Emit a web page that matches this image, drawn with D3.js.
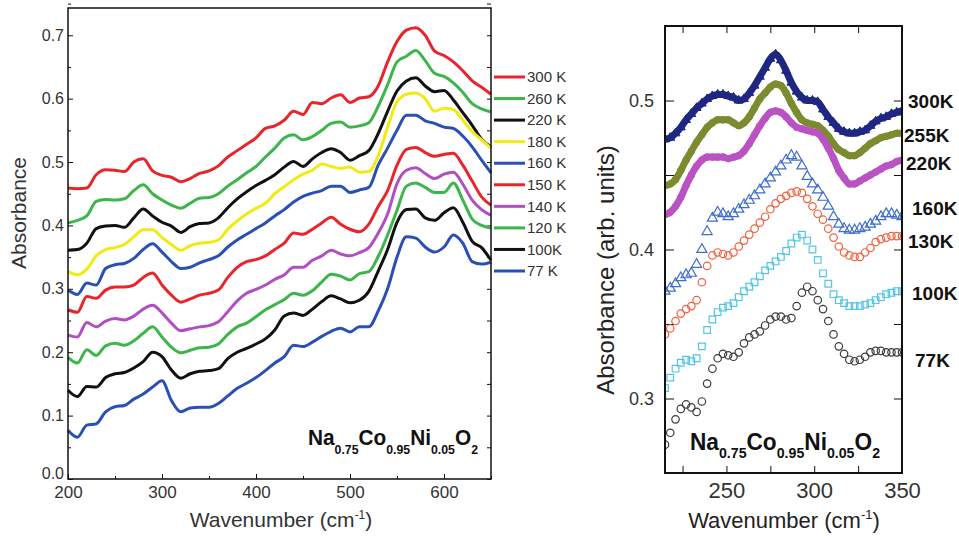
<!DOCTYPE html>
<html>
<head>
<meta charset="utf-8">
<script src="https://d3js.org/d3.v7.min.js"></script>
<style>
  body { margin: 0; background: #fff; }
  svg { display: block; }
</style>
</head>
<body>
<svg id="chart" width="959" height="538"></svg>
<script>
// ---------- left panel data (wavenumber 200..650, absorbance) ----------
const leftX = [200,210,220,230,240,250,260,270,280,290,300,310,320,330,340,350,360,370,380,390,
  400,410,420,430,440,450,460,470,480,490,500,510,520,530,540,550,560,570,580,590,600,610,620,630,640,650];
const leftLabels = ["300 K","260 K","220 K","180 K","160 K","150 K","140 K","120 K","100K","77 K"];
const leftColors = ["#e8252b","#3cb54a","#111111","#f2ea12","#2a50b6","#e8252b","#b04fc2","#3cb54a","#111111","#2a50b6"];
const k300 = [.459,.458,.459,.480,.488,.487,.485,.500,.505,.486,.479,.476,.469,.474,.482,.486,.494,.508,.518,.528,
  .538,.553,.557,.566,.580,.575,.594,.592,.601,.606,.594,.601,.603,.620,.658,.690,.708,.712,.700,.675,.668,.658,.644,.628,.618,.607];
const k260 = [.404,.408,.415,.438,.441,.440,.442,.455,.464,.450,.440,.432,.427,.435,.443,.444,.450,.462,.472,.483,
  .493,.508,.522,.538,.543,.535,.540,.550,.561,.563,.555,.557,.562,.588,.622,.658,.667,.676,.660,.640,.635,.625,.610,.592,.584,.579];
const k220 = [.361,.362,.372,.395,.399,.400,.397,.412,.426,.415,.405,.399,.389,.398,.403,.404,.412,.428,.442,.453,
  .463,.471,.480,.492,.501,.493,.505,.515,.521,.515,.503,.510,.518,.545,.580,.612,.628,.633,.620,.611,.613,.598,.578,.558,.536,.524];
const k180 = [.327,.322,.331,.352,.362,.365,.370,.382,.393,.393,.381,.370,.361,.368,.372,.373,.377,.394,.407,.418,
  .427,.435,.450,.461,.472,.481,.487,.497,.493,.490,.492,.484,.485,.510,.555,.595,.607,.609,.600,.580,.585,.583,.566,.548,.535,.522];
const k160 = [.298,.291,.309,.306,.332,.338,.340,.348,.362,.371,.358,.343,.332,.334,.341,.346,.352,.366,.377,.386,
  .395,.404,.415,.425,.437,.446,.451,.455,.462,.462,.452,.456,.460,.495,.522,.550,.574,.574,.565,.561,.555,.553,.541,.524,.503,.483];
const k150 = [.267,.263,.288,.285,.298,.303,.303,.306,.318,.325,.306,.290,.279,.284,.290,.293,.298,.318,.334,.343,
  .346,.352,.362,.372,.388,.386,.394,.404,.413,.402,.394,.390,.402,.430,.455,.495,.520,.523,.515,.509,.512,.514,.495,.470,.445,.432];
const k140 = [.227,.224,.247,.240,.249,.253,.251,.257,.268,.274,.262,.246,.234,.237,.240,.242,.248,.264,.281,.293,
  .299,.306,.315,.322,.334,.334,.345,.352,.361,.355,.352,.357,.365,.388,.418,.466,.487,.491,.482,.474,.481,.484,.465,.440,.425,.416];
const k120 = [.192,.183,.204,.195,.210,.214,.211,.218,.230,.240,.224,.208,.199,.203,.207,.208,.213,.228,.240,.246,
  .256,.267,.275,.283,.293,.290,.297,.311,.323,.320,.314,.324,.327,.351,.385,.424,.462,.467,.460,.452,.452,.467,.440,.410,.400,.396];
const k100 = [.140,.130,.146,.145,.160,.166,.168,.175,.185,.200,.193,.172,.159,.166,.170,.171,.174,.190,.200,.206,
  .213,.221,.235,.257,.262,.258,.268,.280,.289,.284,.278,.282,.296,.328,.362,.405,.425,.426,.412,.408,.420,.428,.405,.375,.365,.345];
const k77 = [.077,.066,.085,.087,.106,.114,.116,.126,.134,.145,.155,.124,.106,.112,.113,.113,.119,.131,.143,.151,
  .160,.171,.183,.193,.211,.209,.216,.225,.233,.238,.232,.240,.240,.265,.300,.350,.382,.380,.366,.358,.366,.385,.372,.343,.339,.342];
const leftSeries = [k300,k260,k220,k180,k160,k150,k140,k120,k100,k77];
const leftYTicks = [0,0.1,0.2,0.3,0.4,0.5,0.6,0.7];
const leftXTicks = [200,300,400,500,600];

// ---------- right panel data (wavenumber 215..350) ----------
const rightX = [215,218,221,224,227,230,233,236,239,242,245,248,251,254,257,260,263,266,269,272,275,278,281,284,287,
  290,293,296,299,302,305,308,311,314,317,320,323,326,329,332,335,338,341,344,347,350];
const rightLabels = ["300K","255K","220K","160K","130K","100K","77K"];
const rightColors = ["#1f2782","#7c8b2f","#bb52c4","#3f6ccf","#f3603f","#55c5e6","#3c3c3c"];
const r300 = [.474,.475,.478,.482,.487,.491,.495,.498,.501,.503,.504,.504,.503,.502,.500,.501,.505,.510,.516,.522,.528,.531,.527,.520,.512,
  .506,.502,.500,.500,.499,.494,.489,.485,.481,.479,.478,.478,.479,.480,.483,.486,.488,.489,.491,.492,.493];
const r255 = [.443,.444,.447,.453,.460,.466,.472,.477,.482,.485,.487,.487,.487,.485,.483,.485,.489,.495,.501,.505,.509,.511,.510,.505,.498,
  .492,.487,.485,.484,.483,.480,.476,.471,.467,.465,.463,.463,.465,.468,.471,.473,.475,.476,.477,.478,.478];
const r220 = [.4235,.425,.429,.435,.443,.450,.456,.460,.462,.462,.462,.462,.461,.462,.463,.466,.471,.477,.483,.488,.492,.493,.492,.489,.485,
  .482,.481,.480,.479,.478,.474,.468,.461,.453,.448,.444,.444,.446,.448,.450,.452,.454,.456,.457,.459,.460];
const r160 = [.372,.374,.377,.381,.383,.384,.390,.400,.412,.421,.425,.424,.422,.424,.427,.430,.433,.436,.440,.444,.448,.452,.456,.460,.463,
  .462,.456,.449,.444,.440,.435,.429,.422,.417,.414,.413,.413,.414,.415,.417,.419,.422,.424,.424,.423,.422];
const r130 = [.343,.347,.352,.357,.360,.362,.366,.378,.389,.396,.398,.397,.396,.398,.402,.406,.410,.414,.418,.422,.427,.431,.434,.436,.438,
  .439,.438,.434,.429,.424,.420,.414,.408,.402,.398,.396,.395,.395,.398,.401,.405,.407,.408,.409,.409,.409];
const r100 = [.307,.314,.320,.324,.326,.325,.327,.335,.346,.353,.358,.361,.362,.364,.368,.372,.375,.378,.382,.386,.389,.392,.395,.399,.404,
  .408,.410,.406,.400,.393,.384,.377,.370,.366,.364,.362,.362,.362,.363,.364,.366,.368,.370,.371,.372,.372];
const r77 = [.269,.277,.286,.293,.296,.294,.291,.298,.310,.320,.327,.330,.329,.328,.331,.337,.341,.343,.345,.349,.353,.355,.355,.353,.354,
  .362,.371,.375,.372,.366,.360,.352,.343,.335,.330,.326,.325,.326,.328,.331,.332,.332,.331,.331,.331,.331];
const rightSeries = [r300,r255,r220,r160,r130,r100,r77];
const rightYTicks = [0.3,0.4,0.5];
const rightXTicks = [250,300,350];

// ---------- layout ----------
const svg = d3.select("#chart");
const narrow = '"Liberation Sans Narrow", "Liberation Sans", Arial, sans-serif';
const sans = '"Liberation Sans", Arial, sans-serif';

// left panel scales
const xL = d3.scaleLinear().domain([200, 650]).range([68, 491]);
const yL = d3.scaleLinear().domain([0, 0.743]).range([479, 8]);

const gL = svg.append("g");

function styleAxis(g, font, size) {
  g.select(".domain").remove();
  g.selectAll("line").attr("stroke", "#111").attr("stroke-width", 1);
  g.selectAll("text").attr("fill", "#333").style("font-family", font).style("font-size", size + "px");
}

// left axes: inward ticks, minor ticks without labels
gL.append("g").attr("transform", "translate(68,0)")
  .call(d3.axisLeft(yL).tickValues(leftYTicks).tickFormat(d3.format(".1f")).tickSize(-5).tickPadding(4))
  .call(g => styleAxis(g, narrow, 16))
  .call(g => g.selectAll(".tick text").filter(d => d === 0).attr("dy", "-0.05em"));
gL.append("g").attr("transform", "translate(68,0)")
  .call(d3.axisLeft(yL).tickValues(leftYTicks.map(d => d + 0.05)).tickFormat("").tickSize(-3))
  .call(g => styleAxis(g, narrow, 16));
gL.append("g").attr("transform", "translate(491,0)")
  .call(d3.axisRight(yL).tickValues(d3.merge([leftYTicks, leftYTicks.map(d => d + 0.05)])).tickFormat("").tickSize(-4))
  .call(g => styleAxis(g, narrow, 16));
gL.append("g").attr("transform", "translate(0,479)")
  .call(d3.axisBottom(xL).tickValues(leftXTicks).tickSize(-5).tickPadding(7))
  .call(g => styleAxis(g, narrow, 17));
gL.append("g").attr("transform", "translate(0,479)")
  .call(d3.axisBottom(xL).tickValues([250,350,450,550,650]).tickFormat("").tickSize(-3))
  .call(g => styleAxis(g, narrow, 17));

const lineL = d3.line().x((d, i) => xL(leftX[i])).y(d => yL(d)).curve(d3.curveMonotoneX);
gL.append("g").selectAll("path").data(leftSeries).join("path")
  .attr("d", lineL)
  .attr("fill", "none")
  .attr("stroke", (d, i) => leftColors[i])
  .attr("stroke-width", 3)
  .attr("stroke-linejoin", "round");

gL.append("rect").attr("x", 68).attr("y", 8).attr("width", 423).attr("height", 471)
  .attr("fill", "none").attr("stroke", "#111").attr("stroke-width", 1.5);

// left legend
const legY = d3.scalePoint().domain(leftLabels).range([77, 271]);
const leg = gL.append("g").selectAll("g").data(leftLabels).join("g")
  .attr("transform", d => "translate(0," + legY(d) + ")");
leg.append("line").attr("x1", 494).attr("x2", 525)
  .attr("stroke", (d, i) => leftColors[i]).attr("stroke-width", 3);
leg.append("text").attr("x", 527).attr("dy", "0.35em").text(d => d)
  .attr("fill", "#333").style("font-family", narrow).style("font-size", "15px");

// left titles
gL.append("text").attr("transform", "translate(26,213) rotate(-90)")
  .attr("text-anchor", "middle").attr("fill", "#333")
  .style("font-family", sans).style("font-size", "21px").text("Absorbance");
const xtL = gL.append("text").attr("x", 281).attr("y", 527).attr("text-anchor", "middle")
  .attr("fill", "#333").style("font-family", sans).style("font-size", "21px");
xtL.append("tspan").text("Wavenumber (cm");
xtL.append("tspan").attr("dy", -8).style("font-size", "12px").text("-1");
xtL.append("tspan").attr("dy", 8).text(")");

function formula(g, x, y, w, size, subSize, subDy, font) {
  const t = g.append("text").attr("x", x).attr("y", y)
    .attr("textLength", w).attr("lengthAdjust", "spacingAndGlyphs")
    .attr("fill", "#111").style("font-family", font).style("font-weight", "bold").style("font-size", size + "px");
  [["Na",0],["0.75",1],["Co",0],["0.95",1],["Ni",0],["0.05",1],["O",0],["2",1]].forEach(p => {
    t.append("tspan").attr("y", p[1] ? y + subDy : y)
      .style("font-size", (p[1] ? subSize : size) + "px").text(p[0]);
  });
}
formula(gL, 308, 445, 170, 22, 13, 9, narrow);

// ---------- right panel ----------
const xR = d3.scaleLinear().domain([215, 350]).range([665, 902]);
const yR = d3.scaleLinear().domain([0.25, 0.55]).range([473, 26]);
const gR = svg.append("g");

const clip = gR.append("clipPath").attr("id", "clipR");
clip.append("rect").attr("x", 665).attr("y", 26).attr("width", 237).attr("height", 447);

gR.append("g").attr("transform", "translate(665,0)")
  .call(d3.axisLeft(yR).tickValues(rightYTicks).tickFormat(d3.format(".1f")).tickSize(-9).tickPadding(11))
  .call(g => styleAxis(g, sans, 18));
gR.append("g").attr("transform", "translate(665,0)")
  .call(d3.axisLeft(yR).tickValues([0.35, 0.45]).tickFormat("").tickSize(-9))
  .call(g => styleAxis(g, sans, 18));
gR.append("g").attr("transform", "translate(902,0)")
  .call(d3.axisRight(yR).tickValues([0.3, 0.35, 0.4, 0.45, 0.5]).tickFormat("").tickSize(-8))
  .call(g => styleAxis(g, sans, 18));
gR.append("g").attr("transform", "translate(0,473)")
  .call(d3.axisBottom(xR).tickValues(rightXTicks).tickSize(-7).tickPadding(9))
  .call(g => styleAxis(g, sans, 22));
gR.append("g").attr("transform", "translate(0,473)")
  .call(d3.axisBottom(xR).tickValues([225, 275, 325]).tickFormat("").tickSize(-7))
  .call(g => styleAxis(g, sans, 22));
gR.append("g").attr("transform", "translate(0,26)")
  .call(d3.axisTop(xR).tickValues([225, 250, 275, 300, 325]).tickFormat("").tickSize(-7))
  .call(g => styleAxis(g, sans, 22));

const plotR = gR.append("g").attr("clip-path", "url(#clipR)");
const lineR = d3.line().x((d, i) => xR(rightX[i])).y(d => yR(d)).curve(d3.curveMonotoneX);
const symbols = [d3.symbolTriangle, d3.symbolCircle, d3.symbolCircle, d3.symbolTriangle, d3.symbolCircle, d3.symbolSquare, d3.symbolCircle];
const filled = [true, true, true, false, false, false, false];

rightSeries.forEach((s, k) => {
  const g = plotR.append("g");
  if (filled[k]) {
    g.append("path").attr("d", lineR(s)).attr("fill", "none")
      .attr("stroke", rightColors[k]).attr("stroke-width", 7).attr("stroke-linejoin", "round");
  }
  g.selectAll("path.m").data(s).join("path").attr("class", "m")
    .attr("transform", (d, i) => "translate(" + xR(rightX[i]) + "," + yR(d) + ")")
    .attr("d", d3.symbol().type(symbols[k]).size(filled[k] ? 34 : 44))
    .attr("fill", filled[k] ? rightColors[k] : "#fff")
    .attr("fill-opacity", filled[k] ? 1 : 0)
    .attr("stroke", rightColors[k]).attr("stroke-width", filled[k] ? 1 : 1.2);
});

gR.append("rect").attr("x", 665).attr("y", 26).attr("width", 237).attr("height", 447)
  .attr("fill", "none").attr("stroke", "#111").attr("stroke-width", 2);

// right series labels (layout positions)
const rightLabelPos = [[908,101],[904,135],[906,163],[912,208],[908,241],[912,293],[915,360]];
gR.append("g").selectAll("text").data(rightLabels).join("text")
  .attr("x", (d, i) => rightLabelPos[i][0]).attr("y", (d, i) => rightLabelPos[i][1])
  .attr("dy", "0.36em").text(d => d)
  .attr("fill", "#111").style("font-family", sans).style("font-weight", "bold").style("font-size", "19px");

gR.append("text").attr("transform", "translate(614,270) rotate(-90)")
  .attr("text-anchor", "middle").attr("fill", "#222")
  .style("font-family", sans).style("font-size", "24px").text("Absorbance (arb. units)");
const xtR = gR.append("text").attr("x", 784).attr("y", 528).attr("text-anchor", "middle")
  .attr("fill", "#222").style("font-family", sans).style("font-size", "22px");
xtR.append("tspan").text("Wavenumber (cm");
xtR.append("tspan").attr("dy", -9).style("font-size", "13px").text("-1");
xtR.append("tspan").attr("dy", 9).text(")");

formula(gR, 690, 450, 190, 24, 15, 8, sans);
</script>
</body>
</html>
